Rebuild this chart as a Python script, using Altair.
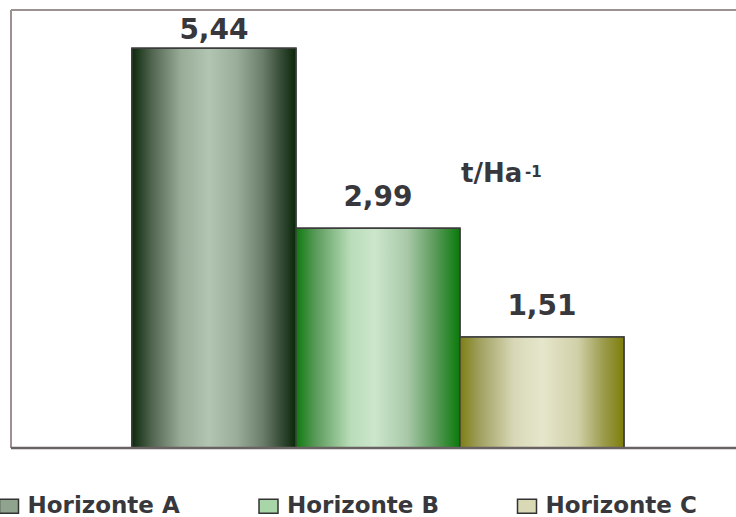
import altair as alt
import pandas as pd

# ---- data ----
categories = ["Horizonte A", "Horizonte B", "Horizonte C"]
values = [5.44, 2.99, 1.51]
legend_colors = ["#8fa38f", "#a9d6a9", "#d9d9b6"]
unit_main = ["t/Ha"]
unit_exp = ["-1"]

df = pd.DataFrame({"horizonte": categories, "valor": values})
one = pd.DataFrame({"k": [0]})

W, H = 725, 438
FONT = "DejaVu Sans"
TXT = "#38383c"

x_scale = alt.Scale(domain=categories, paddingInner=0, paddingOuter=0.7104, align=0.519)
y_scale = alt.Scale(domain=[0, 5.96], nice=False, zero=True)

X = alt.X("horizonte:N", scale=x_scale, axis=None)
Y = alt.Y("valor:Q", scale=y_scale, axis=None)


def grad(stops):
    return alt.Gradient(
        gradient="linear", x1=0, x2=1, y1=0, y2=0,
        stops=[alt.GradientStop(offset=o, color=c) for o, c in stops],
    )


gradients = {
    "Horizonte A": grad([(0, "#0c2a0c"), (0.12, "#50644f"), (0.3, "#98ac98"), (0.47, "#b2c4b2"),
                         (0.64, "#9aac9a"), (0.8, "#6a7c6a"), (0.93, "#2c422c"), (1, "#082808")]),
    "Horizonte B": grad([(0, "#0f7a0f"), (0.12, "#5a9a5a"), (0.33, "#b8dcb8"), (0.48, "#cce6cc"),
                         (0.68, "#a8c8a8"), (0.85, "#5a9a5a"), (1, "#0a7a0a")]),
    "Horizonte C": grad([(0, "#7e7e14"), (0.12, "#a0a060"), (0.33, "#d8d8b8"), (0.5, "#e6e6cc"),
                         (0.72, "#d0d0a8"), (0.88, "#9a9a4a"), (1, "#7e7e0a")]),
}

legend = alt.Legend(
    title=None, orient="none", legendX=-13.5, legendY=484.5, direction="horizontal",
    symbolType="M-1.357,-1L1.357,-1L1.357,1L-1.357,1Z", symbolSize=196,
    symbolStrokeColor="#333333", symbolStrokeWidth=1.5, symbolOpacity=1,
    labelFont=FONT, labelFontWeight="bold", labelFontSize=23, labelColor=TXT,
    labelOffset=7, columnPadding=75.5, padding=0, labelLimit=400,
)

base_bars = alt.Chart(df).mark_bar(stroke="#3c3c3c", strokeWidth=1.5, opacity=1).encode(
    x=X, y=Y,
    color=alt.Color("horizonte:N", scale=alt.Scale(domain=categories, range=legend_colors), legend=legend),
)

grad_layers = [
    alt.Chart(df).transform_filter(alt.datum.horizonte == c)
    .mark_bar(fill=gradients[c], stroke="#3c3c3c", strokeWidth=1.5)
    .encode(x=X, y=Y)
    for c in categories
]

labels = alt.Chart(df).transform_calculate(
    lab="replace(format(datum.valor, '.2f'), '.', ',')",
    ly="min(datum.valor + 0.2994, 5.56)",
).mark_text(font=FONT, fontWeight="bold", fontSize=28, color=TXT, baseline="alphabetic").encode(
    x=X, y=alt.Y("ly:Q", scale=y_scale, axis=None), text="lab:N"
)

unit1 = alt.Chart(pd.DataFrame({"t": unit_main})).mark_text(
    font=FONT, fontWeight="bold", fontSize=26, color=TXT, align="left", baseline="alphabetic"
).encode(x=alt.value(450), y=alt.value(171.7), text="t:N")

unit2 = alt.Chart(pd.DataFrame({"t": unit_exp})).mark_text(
    font=FONT, fontWeight="bold", fontSize=15, color=TXT, align="left", baseline="alphabetic"
).encode(x=alt.value(514), y=alt.value(167.3), text="t:N")

frame_left = alt.Chart(one).mark_rule(color="#9c9090", strokeWidth=2).encode(
    x=alt.value(0), y=alt.value(0), y2=alt.value(H))
frame_top = alt.Chart(one).mark_rule(color="#9c9090", strokeWidth=2).encode(
    x=alt.value(0), x2=alt.value(W), y=alt.value(0))
frame_bottom = alt.Chart(one).mark_rule(color="#6a6262", strokeWidth=2.5).encode(
    x=alt.value(0), x2=alt.value(W), y=alt.value(H))

chart = alt.layer(
    base_bars, *grad_layers, labels, unit1, unit2, frame_left, frame_top, frame_bottom
).properties(
    width=W, height=H,
    autosize=alt.AutoSizeParams(type="none"),
    padding={"left": 11, "top": 10, "right": 0, "bottom": 69},
).configure_view(stroke=None).configure(background="white")

chart.save("out.html", embed_options={"renderer": "svg", "actions": False})
